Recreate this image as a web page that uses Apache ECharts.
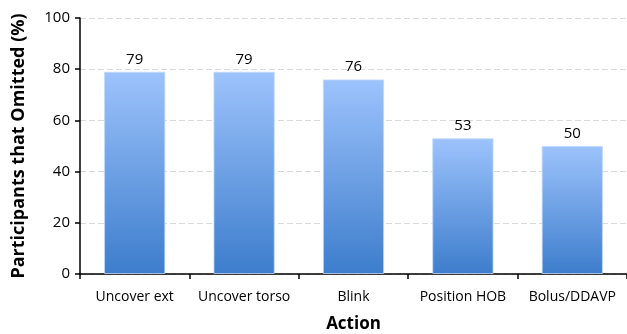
<!DOCTYPE html>
<html><head><meta charset="utf-8">
<script src="https://cdn.jsdelivr.net/npm/echarts@6/dist/echarts.min.js"></script>
<style>html,body{margin:0;padding:0;background:#fff}#c{width:627px;height:334px}</style>
</head><body><div id="c"></div>
<script>
const categories = ["Uncover ext", "Uncover torso", "Blink", "Position HOB", "Bolus/DDAVP"];
const values = [79, 79, 76, 53, 50];
const yTicks = [0, 20, 40, 60, 80, 100];
const FONT = "Open Sans";
const chart = echarts.init(document.getElementById('c'), null, {renderer: 'canvas'});
chart.setOption({
  animation: false,
  backgroundColor: '#fff',
  grid: {left: 80, right: 0, top: 18, bottom: 60, outerBoundsMode: 'none', containLabel: false},
  xAxis: {
    type: 'category', data: categories,
    name: 'Action', nameLocation: 'middle', nameGap: 42,
    nameTextStyle: {fontFamily: FONT, fontWeight: 'bold', fontSize: 17, color: '#000'},
    axisLine: {lineStyle: {color: '#000', width: 1.5}},
    axisTick: {show: true, inside: false, length: 5, lineStyle: {color: '#000', width: 1.5}},
    axisLabel: {fontFamily: FONT, fontSize: 14, color: '#000', margin: 16, interval: 0}
  },
  yAxis: {
    type: 'value', min: 0, max: 100, interval: 20,
    name: 'Participants that Omitted (%)', nameLocation: 'middle', nameGap: 52,
    nameTextStyle: {fontFamily: FONT, fontWeight: 'bold', fontSize: 18, color: '#000'},
    axisLine: {show: true, lineStyle: {color: '#000', width: 1.5}},
    axisTick: {show: true, length: 5, lineStyle: {color: '#000', width: 1.5}},
    axisLabel: {fontFamily: FONT, fontSize: 15, color: '#000', margin: 10,
      formatter: v => yTicks.includes(v) ? String(v) : ''},
    splitLine: {show: true, lineStyle: {color: '#d9d9d9', type: [6, 3], width: 1}}
  },
  series: [{
    type: 'bar', data: values, barWidth: '56%',
    itemStyle: {
      color: new echarts.graphic.LinearGradient(0, 0, 0, 1, [
        {offset: 0, color: '#9dc3fc'}, {offset: 1, color: '#3d7dcc'}
      ], false),
      borderColor: 'rgba(190,215,250,0.8)', borderWidth: 1
    },
    label: {show: true, position: 'top', distance: 5, fontFamily: FONT, fontSize: 15, color: '#000'}
  }]
});
</script></body></html>
